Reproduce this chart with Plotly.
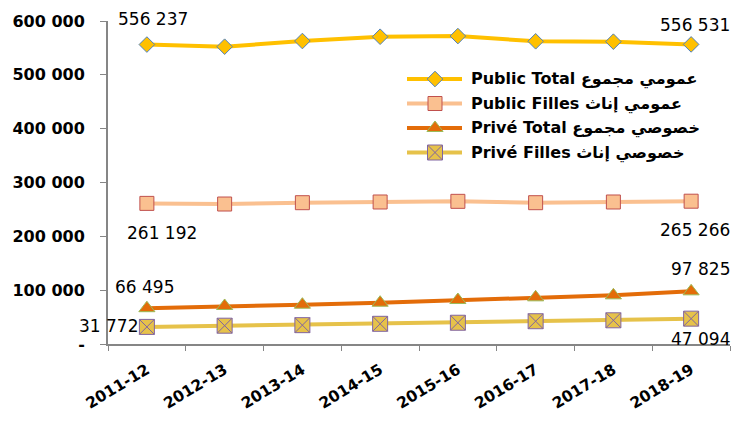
import plotly.graph_objects as go

categories = ["2011-12", "2012-13", "2013-14", "2014-15", "2015-16", "2016-17", "2017-18", "2018-19"]
public_total = [556237, 552300, 562800, 570800, 572000, 562300, 561600, 556531]
public_filles = [261192, 260000, 262500, 263800, 265000, 262500, 263800, 265266]
prive_total = [66495, 70600, 73000, 76700, 81700, 86700, 90400, 97825]
prive_filles = [31772, 34000, 35000, 37500, 39500, 42300, 44000, 47094]
y_ticks = [0, 100000, 200000, 300000, 400000, 500000, 600000]
y_tick_labels = ["-", "100 000", "200 000", "300 000", "400 000", "500 000", "600 000"]

names_latin = ["Public Total", "Public Filles", "Privé Total", "Privé Filles"]
names_arabic = ["عمومي مجموع", "عمومي إناث", "خصوصي مجموع", "خصوصي إناث"]
series = [public_total, public_filles, prive_total, prive_filles]
line_colors = ["#FFC000", "#FAC090", "#E36C09", "#E6C24A"]
marker_fill = ["#FFC000", "#FAC090", "#E36C09", "#E6C24A"]
marker_line = ["#4F81BD", "#C0504D", "#9BBB59", "#8064A2"]
symbols = ["diamond", "square", "triangle-up", "square-x"]
sizes = [12, 14, 14, 15]

FONT = "'DejaVu Sans', Verdana, sans-serif"

fig = go.Figure()
for s, n, lc, mf, ml, sym, sz in zip(series, names_latin, line_colors, marker_fill, marker_line, symbols, sizes):
    fig.add_trace(go.Scatter(
        x=categories, y=s, name=n, mode="lines+markers", showlegend=False,
        line=dict(color=lc, width=4),
        marker=dict(symbol=sym, size=sz, color=mf, line=dict(color=ml, width=1)),
    ))

# Custom legend drawn on a hidden pixel-coordinate overlay axis
leg_rows = [79, 103.5, 128, 152.5]
for i in range(4):
    yy = leg_rows[i]
    fig.add_trace(go.Scatter(
        x=[407, 462], y=[yy, yy], mode="lines", xaxis="x2", yaxis="y2", showlegend=False,
        line=dict(color=line_colors[i], width=4), hoverinfo="skip"))
    fig.add_trace(go.Scatter(
        x=[435], y=[yy], mode="markers", xaxis="x2", yaxis="y2", showlegend=False,
        marker=dict(symbol=symbols[i], size=sizes[i], color=marker_fill[i],
                    line=dict(color=marker_line[i], width=1)), hoverinfo="skip"))
    fig.add_annotation(
        x=469, y=yy, xref="x2", yref="y2", xanchor="left", yanchor="middle", showarrow=False,
        text=f"<b>{names_latin[i]} {names_arabic[i]}</b>",
        font=dict(family=FONT, size=16, color="#000000"))

def fmt(v):
    return f"{v:,}".replace(",", " ")

label_font = dict(family=FONT, size=17, color="#000000")
labels = [
    (categories[0], public_total[0], "left", -31, 26),
    (categories[-1], public_total[-1], "right", 41, 19),
    (categories[0], public_filles[0], "left", -22, -30),
    (categories[-1], public_filles[-1], "right", 41, -29),
    (categories[0], prive_total[0], "left", -34, 21),
    (categories[-1], prive_total[-1], "right", 41, 22),
    (categories[0], prive_filles[0], "right", -7, 1),
    (categories[-1], prive_filles[-1], "right", 41, -20),
]
for x, y, xa, xs, ys in labels:
    fig.add_annotation(x=x, y=y, text=fmt(y), showarrow=False, xanchor=xa, xshift=xs, yshift=ys,
                       font=label_font)

fig.update_layout(
    width=742, height=413,
    margin=dict(l=100, r=20, t=13, b=77),
    paper_bgcolor="white", plot_bgcolor="white",
    showlegend=False,
    font=dict(family=FONT),
    xaxis2=dict(overlaying="x", anchor="y2", range=[108, 730], visible=False, fixedrange=True),
    yaxis2=dict(overlaying="y", anchor="x2", range=[344, 21], visible=False, fixedrange=True),
)
fig.layout.xaxis.update(
    type="category", automargin=False, range=[-0.5, 7.5],
    showline=True, linecolor="#868686", linewidth=2,
    ticks="outside", tickcolor="#868686", ticklen=5, tickson="boundaries",
    tickangle=-31, showgrid=False, ticklabelstandoff=9,
    tickfont=dict(family=FONT, size=15.5, color="#000000", weight="bold"),
)
fig.layout.yaxis.update(
    range=[0, 600000], tickvals=y_ticks, ticktext=y_tick_labels, automargin=False,
    showline=True, linecolor="#868686", linewidth=2,
    ticks="outside", tickcolor="#868686", ticklen=6, showgrid=False, zeroline=False,
    ticklabelstandoff=12,
    tickfont=dict(family=FONT, size=16, color="#000000", weight="bold"),
)
fig.write_html("out.html")
